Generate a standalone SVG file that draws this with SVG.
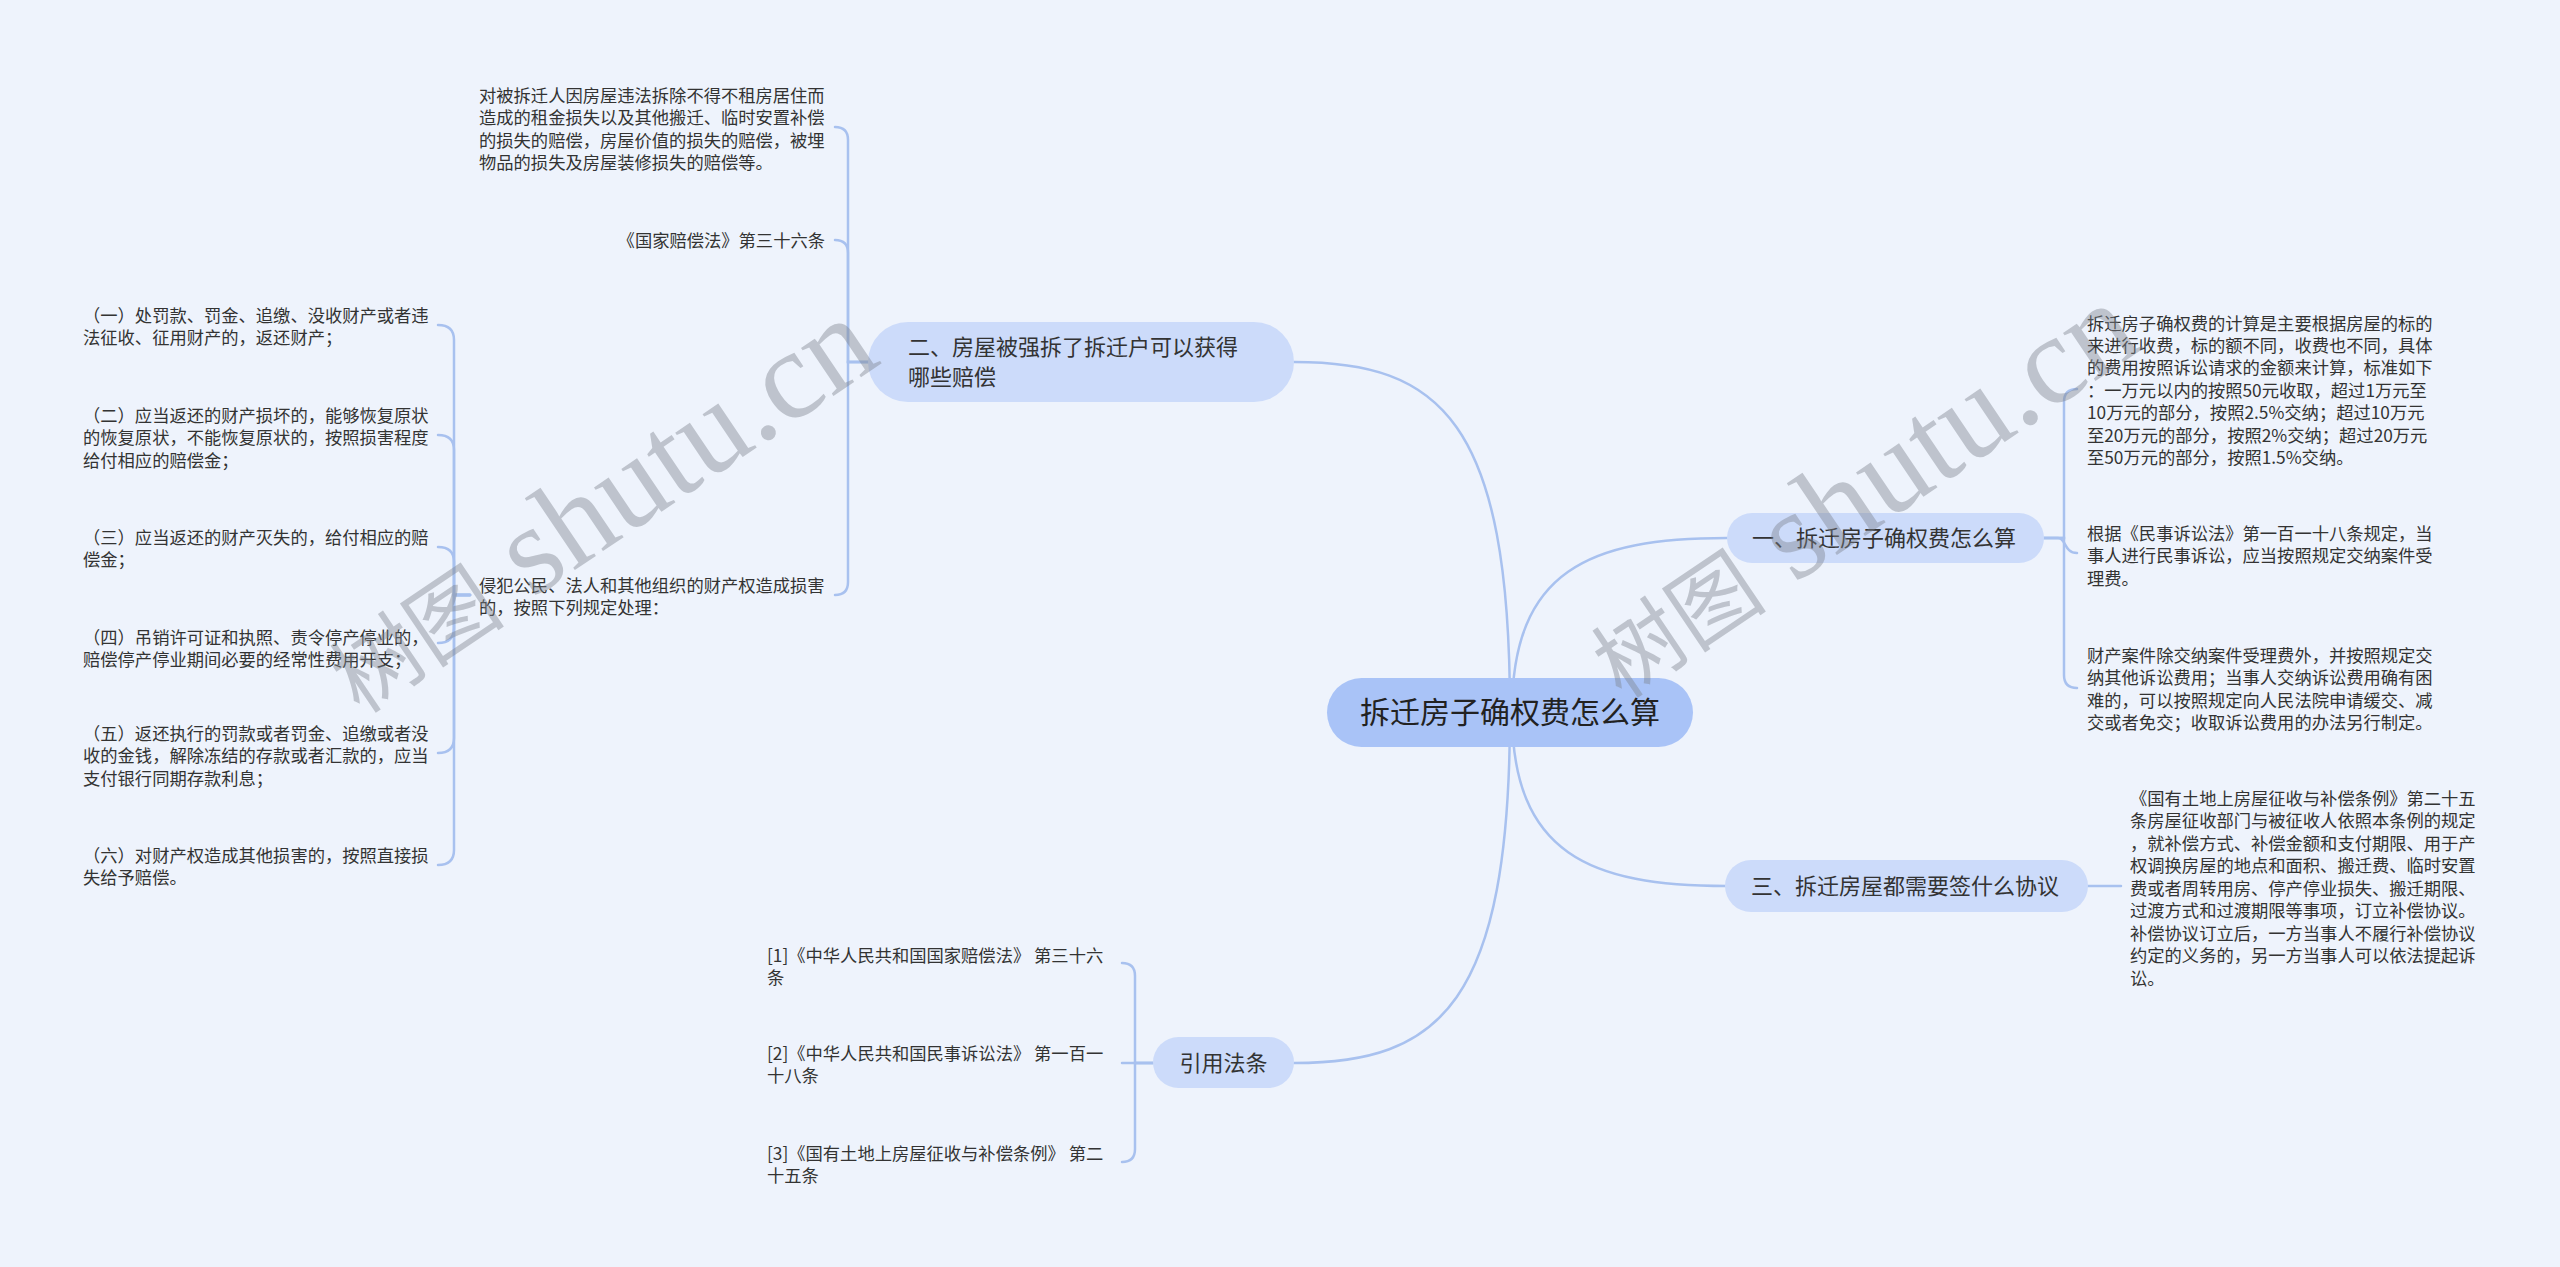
<svg xmlns="http://www.w3.org/2000/svg" width="2560" height="1267" viewBox="0 0 2560 1267">
<style>
.bg{fill:#eef3fc}
.ln{fill:none;stroke:#a8c1ef;stroke-width:2.5;stroke-linecap:round}
.root{fill:#a9c3f7}
.br{fill:#ccdbfa}
.rt{font-family:"Noto Sans CJK SC",sans-serif;font-size:30px;fill:#222}
.bt{font-family:"Noto Sans CJK SC",sans-serif;font-size:22px;fill:#333}
.lt{font-family:"Noto Sans CJK SC",sans-serif;font-size:17.3px;fill:#333}
.wm{font-family:"Liberation Serif","Noto Sans CJK SC",serif;fill:#7d838d;opacity:0.42}
</style>
<rect class="bg" x="0" y="0" width="2560" height="1267"/>
<g id="connectors">
<path class="ln" d="M1510 712 C1510 420 1440 362 1294 362"/>
<path class="ln" d="M1512 712 C1512 570 1590 538 1727 538"/>
<path class="ln" d="M1512 712 C1512 854 1590 886 1727 886"/>
<path class="ln" d="M1510 712 C1510 1004 1440 1063 1294 1063"/>
<path class="ln" d="M868 362 H848 V140 Q848 127 835 127"/>
<path class="ln" d="M868 362 H848 V253 Q848 240 835 240"/>
<path class="ln" d="M868 362 H848 V582 Q848 595 835 595"/>
<path class="ln" d="M470 595 H454 V340 Q454 325 438 325"/>
<path class="ln" d="M470 595 H454 V450 Q454 435 438 435"/>
<path class="ln" d="M470 595 H454 V562 Q454 547 438 547"/>
<path class="ln" d="M470 595 H454 V628 Q454 643 438 643"/>
<path class="ln" d="M470 595 H454 V738 Q454 753 438 753"/>
<path class="ln" d="M470 595 H454 V850 Q454 865 438 865"/>
<path class="ln" d="M1153 1063 H1135 V976 Q1135 963 1122 963"/>
<path class="ln" d="M1153 1063 H1122"/>
<path class="ln" d="M1153 1063 H1135 V1149 Q1135 1162 1122 1162"/>
<path class="ln" d="M2044 538 H2064 V402 Q2064 389 2077 389"/>
<path class="ln" d="M2044 538 H2058 C2066 538 2064 553 2077 553"/>
<path class="ln" d="M2044 538 H2064 V675 Q2064 688 2077 688"/>
<path class="ln" d="M2088 886 H2121"/>
</g>
<g id="root">
<rect class="root" x="1327" y="678" width="366" height="69" rx="34.5"/>
<text class="rt" x="1510" y="722.5" text-anchor="middle">拆迁房子确权费怎么算</text>
</g>
<g id="branch2">
<rect class="br" x="868" y="322" width="426" height="80" rx="40"/>
<text class="bt" x="908" y="355">二、房屋被强拆了拆迁户可以获得<tspan x="908" y="385">哪些赔偿</tspan></text>
</g>
<g id="branch1">
<rect class="br" x="1727" y="513" width="317" height="50" rx="25"/>
<text class="bt" x="1752" y="546">一、拆迁房子确权费怎么算</text>
</g>
<g id="branch3">
<rect class="br" x="1725" y="860" width="363" height="52" rx="26"/>
<text class="bt" x="1751" y="894">三、拆迁房屋都需要签什么协议</text>
</g>
<g id="branchRef">
<rect class="br" x="1153" y="1037" width="141" height="51" rx="25.5"/>
<text class="bt" x="1223.5" y="1071" text-anchor="middle">引用法条</text>
</g>
<g id="leaf2a">
<text class="lt" x="479" y="102">对被拆迁人因房屋违法拆除不得不租房居住而<tspan x="479" y="124.4">造成的租金损失以及其他搬迁、临时安置补偿</tspan><tspan x="479" y="146.8">的损失的赔偿，房屋价值的损失的赔偿，被埋</tspan><tspan x="479" y="169.2">物品的损失及房屋装修损失的赔偿等。</tspan></text>
</g>
<g id="leaf2b">
<text class="lt" x="825" y="246.5" text-anchor="end">《国家赔偿法》第三十六条</text>
</g>
<g id="leaf2c">
<text class="lt" x="479" y="591.5">侵犯公民、法人和其他组织的财产权造成损害<tspan x="479" y="614">的，按照下列规定处理：</tspan></text>
</g>
<g id="item1">
<text class="lt" x="83" y="321.5">（一）处罚款、罚金、追缴、没收财产或者违<tspan x="83" y="344">法征收、征用财产的，返还财产；</tspan></text>
</g>
<g id="item2">
<text class="lt" x="83" y="421.5">（二）应当返还的财产损坏的，能够恢复原状<tspan x="83" y="444">的恢复原状，不能恢复原状的，按照损害程度</tspan><tspan x="83" y="466.5">给付相应的赔偿金；</tspan></text>
</g>
<g id="item3">
<text class="lt" x="83" y="543.5">（三）应当返还的财产灭失的，给付相应的赔<tspan x="83" y="566">偿金；</tspan></text>
</g>
<g id="item4">
<text class="lt" x="83" y="643.5">（四）吊销许可证和执照、责令停产停业的，<tspan x="83" y="666">赔偿停产停业期间必要的经常性费用开支；</tspan></text>
</g>
<g id="item5">
<text class="lt" x="83" y="739.5">（五）返还执行的罚款或者罚金、追缴或者没<tspan x="83" y="762">收的金钱，解除冻结的存款或者汇款的，应当</tspan><tspan x="83" y="784.5">支付银行同期存款利息；</tspan></text>
</g>
<g id="item6">
<text class="lt" x="83" y="861.5">（六）对财产权造成其他损害的，按照直接损<tspan x="83" y="884">失给予赔偿。</tspan></text>
</g>
<g id="leaf1a">
<text class="lt" x="2087" y="329.5">拆迁房子确权费的计算是主要根据房屋的标的<tspan x="2087" y="351.9">来进行收费，标的额不同，收费也不同，具体</tspan><tspan x="2087" y="374.3">的费用按照诉讼请求的金额来计算，标准如下</tspan><tspan x="2087" y="396.7">：一万元以内的按照50元收取，超过1万元至</tspan><tspan x="2087" y="419.1">10万元的部分，按照2.5%交纳；超过10万元</tspan><tspan x="2087" y="441.5">至20万元的部分，按照2%交纳；超过20万元</tspan><tspan x="2087" y="463.9">至50万元的部分，按照1.5%交纳。</tspan></text>
</g>
<g id="leaf1b">
<text class="lt" x="2087" y="539.5">根据《民事诉讼法》第一百一十八条规定，当<tspan x="2087" y="562">事人进行民事诉讼，应当按照规定交纳案件受</tspan><tspan x="2087" y="584.5">理费。</tspan></text>
</g>
<g id="leaf1c">
<text class="lt" x="2087" y="661.5">财产案件除交纳案件受理费外，并按照规定交<tspan x="2087" y="684">纳其他诉讼费用；当事人交纳诉讼费用确有困</tspan><tspan x="2087" y="706.5">难的，可以按照规定向人民法院申请缓交、减</tspan><tspan x="2087" y="729">交或者免交；收取诉讼费用的办法另行制定。</tspan></text>
</g>
<g id="leaf3">
<text class="lt" x="2130" y="804.5">《国有土地上房屋征收与补偿条例》第二十五<tspan x="2130" y="827">条房屋征收部门与被征收人依照本条例的规定</tspan><tspan x="2130" y="849.5">，就补偿方式、补偿金额和支付期限、用于产</tspan><tspan x="2130" y="872">权调换房屋的地点和面积、搬迁费、临时安置</tspan><tspan x="2130" y="894.5">费或者周转用房、停产停业损失、搬迁期限、</tspan><tspan x="2130" y="917">过渡方式和过渡期限等事项，订立补偿协议。</tspan><tspan x="2130" y="939.5">补偿协议订立后，一方当事人不履行补偿协议</tspan><tspan x="2130" y="962">约定的义务的，另一方当事人可以依法提起诉</tspan><tspan x="2130" y="984.5">讼。</tspan></text>
</g>
<g id="ref1">
<text class="lt" x="767" y="961.5">[1]《中华人民共和国国家赔偿法》 第三十六<tspan x="767" y="984">条</tspan></text>
</g>
<g id="ref2">
<text class="lt" x="767" y="1059.5">[2]《中华人民共和国民事诉讼法》 第一百一<tspan x="767" y="1082">十八条</tspan></text>
</g>
<g id="ref3">
<text class="lt" x="767" y="1159.5">[3]《国有土地上房屋征收与补偿条例》 第二<tspan x="767" y="1182">十五条</tspan></text>
</g>
<g id="watermark">
<text class="wm" transform="translate(360 715) rotate(-34)"><tspan font-size="88">树图</tspan><tspan font-size="126"> shutu.cn</tspan></text>
<text class="wm" transform="translate(1622 700) rotate(-34)"><tspan font-size="88">树图</tspan><tspan font-size="126"> shutu.cn</tspan></text>
</g>
</svg>
